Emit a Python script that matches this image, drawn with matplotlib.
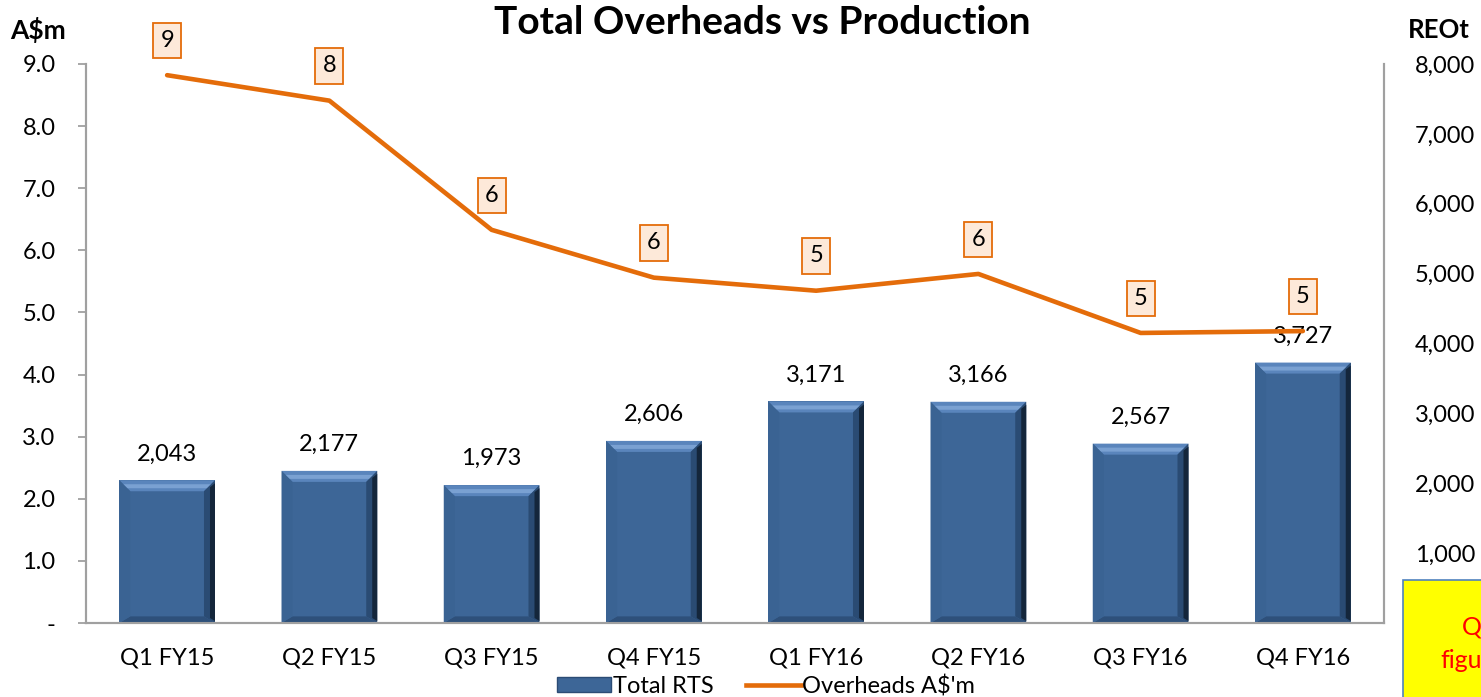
import numpy as np
import matplotlib
matplotlib.use("Agg")
import matplotlib.pyplot as plt
from matplotlib.patches import Polygon, Rectangle, Patch
from matplotlib.lines import Line2D

plt.rcParams['font.family'] = ['Lato', 'DejaVu Sans']

# данные
quarters = ['Q1 FY15', 'Q2 FY15', 'Q3 FY15', 'Q4 FY15',
            'Q1 FY16', 'Q2 FY16', 'Q3 FY16', 'Q4 FY16']
total_rts = [2043, 2177, 1973, 2606, 3171, 3166, 2567, 3727]  # REOt
overheads = [8.82, 8.41, 6.33, 5.56, 5.35, 5.62, 4.67, 4.70]  # A$m

left_ticks = [0, 1, 2, 3, 4, 5, 6, 7, 8, 9]
right_ticks = [1000, 2000, 3000, 4000, 5000, 6000, 7000, 8000]

bar_color = '#3D6697'
line_color = '#E46C0A'
spine_color = '#A0A0A0'
fs = 17

fig = plt.figure(figsize=(14.81, 6.97), dpi=100)
ax = fig.add_axes([86 / 1481, 1 - 623 / 697, (1384 - 86) / 1481, (623 - 64) / 697])
ax2 = ax.twinx()

x = np.arange(len(quarters))

# столбцы (правая ось)
bars = ax2.bar(x, total_rts, width=0.59, color=bar_color, zorder=2)
ax2.set_ylim(0, 8000)
ax.set_xlim(-0.5, len(quarters) - 0.5)
ax.set_ylim(0, 9)

# подписи над столбцами
for xi, v in zip(x, total_rts):
    ax2.annotate(f'{v:,}', (xi, v), xytext=(0, 19), textcoords='offset points',
                 ha='center', va='center', fontsize=fs, color='black')

# "объёмные" края столбцов
fig.canvas.draw()
to_disp = ax2.transData
to_data = ax2.transData.inverted()
bev = 11  # px
for r in bars:
    x0, y0 = to_disp.transform((r.get_x(), 0))
    x1, y1 = to_disp.transform((r.get_x() + r.get_width(), r.get_height()))
    shapes = [
        ([(x0, y1), (x1, y1), (x1 - bev, y1 - bev), (x0 + bev, y1 - bev)], '#5A85BC'),
        ([(x0 + 4, y1 - 4), (x1 - 4, y1 - 4), (x1 - bev + 3, y1 - bev + 3), (x0 + bev - 3, y1 - bev + 3)], '#7AA1D2'),
        ([(x1, y1), (x1, y0), (x1 - bev, y0 + bev * 0.6), (x1 - bev, y1 - bev)], '#2A4B73'),
        ([(x1, y1 - 3), (x1, y0 + 2), (x1 - 5, y0 + 5), (x1 - 5, y1 - 7)], '#14263B'),
        ([(x0, y0), (x1, y0), (x1 - bev, y0 + bev * 0.6), (x0 + bev, y0 + bev * 0.6)], '#2E507A'),
        ([(x0, y1), (x0 + bev, y1 - bev), (x0 + bev, y0 + bev * 0.6), (x0, y0)], '#3A6393'),
    ]
    for pts, c in shapes:
        pts_data = to_data.transform(pts)
        ax2.add_patch(Polygon(pts_data, closed=True, facecolor=c, edgecolor='none', zorder=3))

# линия накладных расходов (левая ось)
ax.set_zorder(ax2.get_zorder() + 1)
ax.patch.set_visible(False)
ax.plot(x, overheads, color=line_color, lw=3.3, solid_capstyle='round', zorder=5)
for xi, v in zip(x, overheads):
    ax.annotate(f'{v:.0f}', (xi, v), xytext=(0, 25), textcoords='offset points',
                ha='center', va='center', fontsize=fs, color='black', zorder=6,
                bbox=dict(boxstyle='square,pad=0.3', fc='#FDE9D9', ec=line_color, lw=1.3))

# оси
for a in (ax, ax2):
    a.spines['top'].set_visible(False)
    for s in ('left', 'right', 'bottom'):
        a.spines[s].set_color(spine_color)
        a.spines[s].set_linewidth(1.5)

ax.set_xticks(x)
ax.set_xticklabels(quarters, fontsize=fs)
ax.tick_params(axis='x', length=0, pad=18)
ax.set_yticks(left_ticks)
ax.set_yticklabels(['-'] + [f'{t:.1f}' for t in left_ticks[1:]], fontsize=fs)
ax.tick_params(axis='y', length=6, width=1.3, color=spine_color, pad=16)
ax2.set_yticks(right_ticks)
ax2.set_yticklabels([f'{t:,}' for t in right_ticks], fontsize=fs)
ax2.tick_params(axis='y', length=0, pad=22)

fig.text(762 / 1481, 1 - 22 / 697, 'Total Overheads vs Production', ha='center', va='center',
         fontsize=28, fontweight='bold')
fig.text(38 / 1481, 1 - 30 / 697, 'A$m', ha='center', va='center', fontsize=19, fontweight='bold')
fig.text(1439 / 1481, 1 - 30 / 697, 'REOt', ha='center', va='center', fontsize=18.5, fontweight='bold')

# легенда
handles = [Patch(facecolor=bar_color, edgecolor='#2B4C75'),
           Line2D([], [], color=line_color, lw=3.3)]
fig.legend(handles, ['Total RTS', "Overheads A$'m"], loc='center', ncol=2,
           bbox_to_anchor=(766 / 1481, 1 - 686 / 697), frameon=False, fontsize=fs,
           handlelength=2.3, handletextpad=0.05, columnspacing=1.4, handleheight=0.6)

# обрезанная жёлтая сноска справа (в оригинале тоже обрезана краем)
fig.patches.append(Rectangle((1403 / 1481, -0.1), 0.2, 0.1 + 1 - 580 / 697,
                             transform=fig.transFigure, facecolor='#FFFF00',
                             edgecolor='#4F81BD', lw=1.2, zorder=0))
fig.text(1462 / 1481, 1 - 627 / 697, 'Q4 FY16', ha='left', va='center', fontsize=18, color='#FF0000')
fig.text(1440 / 1481, 1 - 661 / 697, 'figures', ha='left', va='center', fontsize=18, color='#FF0000')

fig.savefig('out.png', dpi=100)
